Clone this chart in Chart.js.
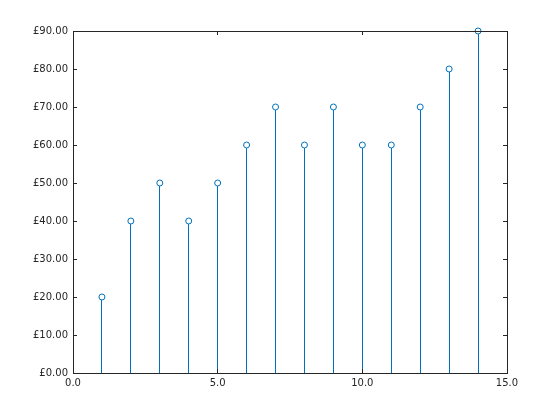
<!DOCTYPE html>
<html>
<head>
<meta charset="utf-8">
<script src="https://cdn.jsdelivr.net/npm/chart.js@4"></script>
<style>
  html, body { margin: 0; padding: 0; background: #fff; }
  #wrap { width: 560px; height: 420px; }
</style>
</head>
<body>
<div id="wrap"><canvas id="chart"></canvas></div>
<script>
// values
const xValues = [1, 2, 3, 4, 5, 6, 7, 8, 9, 10, 11, 12, 13, 14];
const yValues = [20, 40, 50, 40, 50, 60, 70, 60, 70, 60, 60, 70, 80, 90];
const xTicks = [0, 5, 10, 15];
const yTicks = [0, 10, 20, 30, 40, 50, 60, 70, 80, 90];

const points = xValues.map((x, i) => ({ x, y: yValues[i] }));
const axisColor = '#262626';
const stemColor = '#0072BD';

// stems from the baseline up to each point, placed with the chart's scales
const stems = {
  id: 'stems',
  beforeDatasetsDraw(chart) {
    const { ctx, scales } = chart;
    const base = scales.y.getPixelForValue(0);
    ctx.save();
    ctx.strokeStyle = stemColor;
    ctx.lineWidth = 1;
    ctx.beginPath();
    points.forEach(p => {
      const px = Math.floor(scales.x.getPixelForValue(p.x)) + 0.5;
      ctx.moveTo(px, base);
      ctx.lineTo(px, scales.y.getPixelForValue(p.y));
    });
    ctx.stroke();
    ctx.restore();
  }
};

// box round the plot plus small ticks pointing inwards on all four sides
const boxTicks = {
  id: 'boxTicks',
  afterDatasetsDraw(chart) {
    const { ctx, chartArea: a, scales } = chart;
    const len = 4;
    ctx.save();
    ctx.strokeStyle = axisColor;
    ctx.lineWidth = 1;
    ctx.beginPath();
    xTicks.forEach(v => {
      const px = Math.floor(scales.x.getPixelForValue(v)) + 0.5;
      ctx.moveTo(px, a.bottom); ctx.lineTo(px, a.bottom - len);
      ctx.moveTo(px, a.top); ctx.lineTo(px, a.top + len);
    });
    yTicks.forEach(v => {
      const py = Math.round(scales.y.getPixelForValue(v)) + 0.5;
      ctx.moveTo(a.left, py); ctx.lineTo(a.left + len, py);
      ctx.moveTo(a.right, py); ctx.lineTo(a.right - len, py);
    });
    ctx.stroke();
    ctx.strokeRect(a.left + 0.5, a.top + 0.5, a.right - a.left, a.bottom - a.top);
    ctx.restore();
  }
};

new Chart(document.getElementById('chart'), {
  type: 'scatter',
  data: {
    datasets: [
      {
        data: points,
        showLine: false,
        clip: false,
        pointStyle: 'circle',
        pointRadius: 3,
        pointBorderWidth: 1,
        borderColor: stemColor,
        backgroundColor: '#fff'
      }
    ]
  },
  options: {
    responsive: true,
    maintainAspectRatio: false,
    animation: false,
    layout: { padding: { left: 0, right: 53, top: 31, bottom: 0 } },
    plugins: { legend: { display: false }, tooltip: { enabled: false } },
    scales: {
      x: {
        type: 'linear',
        min: 0,
        max: 15,
        offset: false,
        afterBuildTicks: s => { s.ticks = xTicks.map(v => ({ value: v })); },
        afterFit: s => { s.height = 47; },
        grid: { display: false, drawTicks: false },
        border: { display: false },
        ticks: {
          color: axisColor,
          font: { family: 'DejaVu Sans', size: 10 },
          padding: 4,
          maxRotation: 0,
          callback: v => v.toFixed(1)
        }
      },
      y: {
        min: 0,
        max: 90,
        afterBuildTicks: s => { s.ticks = yTicks.map(v => ({ value: v })); },
        afterFit: s => { s.width = 73; },
        grid: { display: false, drawTicks: false },
        border: { display: false },
        ticks: {
          color: axisColor,
          font: { family: 'DejaVu Sans', size: 10 },
          padding: 5,
          callback: v => '£' + v.toFixed(2)
        }
      }
    }
  },
  plugins: [stems, boxTicks]
});
</script>
</body>
</html>
